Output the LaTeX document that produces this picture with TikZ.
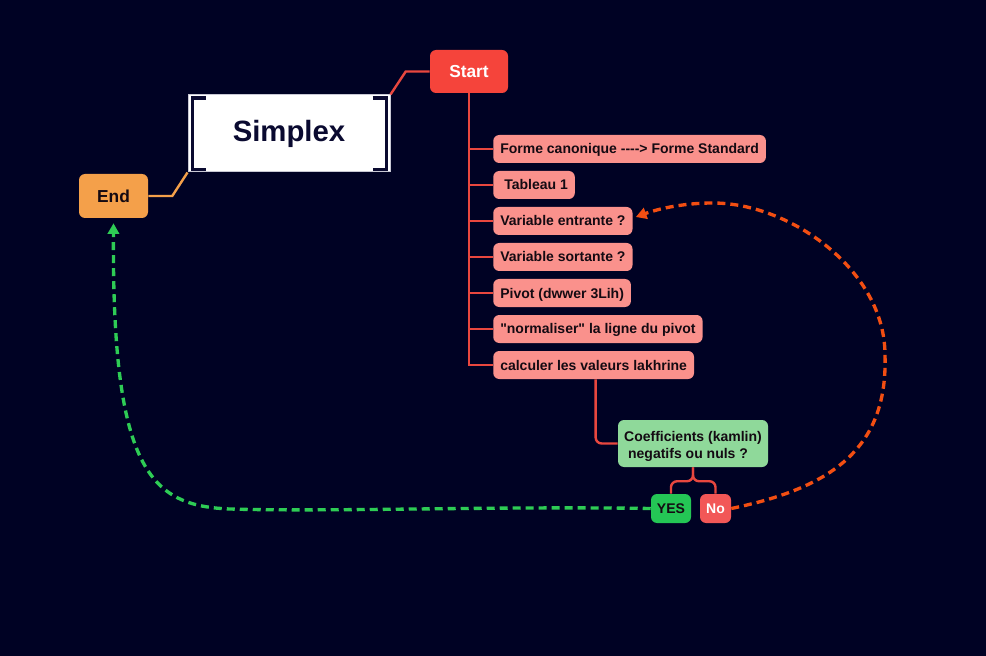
\documentclass[tikz,border=0pt]{standalone}
\usepackage{fontspec}
\setmainfont{Liberation Sans}[Ligatures=TeXOff]
\usetikzlibrary{calc,arrows.meta}
\definecolor{bgnavy}{HTML}{000224}
\definecolor{startred}{HTML}{F5443B}
\definecolor{endorange}{HTML}{F4A04A}
\definecolor{itempink}{HTML}{FA918C}
\definecolor{coefgreen}{HTML}{8FD99A}
\definecolor{yesgreen}{HTML}{24C655}
\definecolor{nored}{HTML}{F25757}
\definecolor{linkred}{HTML}{E8473F}
\definecolor{loopred}{HTML}{F24E12}
\definecolor{loopgreen}{HTML}{2ECC55}
\definecolor{inktext}{HTML}{140A12}
\definecolor{simplexink}{HTML}{0A0A30}
\tikzset{
	box/.style={rounded corners=4.5pt, inner sep=0pt, text=inktext,
		font=\bfseries\fontsize{10.5}{13}\selectfont, text height=9.5pt, text depth=2pt},
	item/.style={box, fill=itempink, anchor=west, minimum height=21pt, inner xsep=5.25pt},
	link/.style={draw=linkred, line width=1.8pt},
	bracket/.style={draw=simplexink, line width=2.6pt},
	loopback/.style={line width=2.5pt, dash pattern=on 6pt off 3.75pt, -{Triangle[length=8pt,width=8.5pt]}}
}

\begin{document}
\begin{tikzpicture}[x=0.75pt, y=-0.75pt]
			%%%%% START %%%%%
			
			\fill[bgnavy] (0, 0) rectangle (986, 656);
			
			\node[box, fill=startred, text=white, minimum width=58.5pt, minimum height=32.25pt,
				font=\bfseries\fontsize{13}{15}\selectfont, text height=11.5pt, text depth=2pt] (start) at (469, 71.5) {Start};
			\node[fill=white, draw={rgb,255:red,200;green,200;blue,212}, line width=0.75pt,
				minimum width=151.5pt, minimum height=57.75pt, text=simplexink,
				font=\bfseries\fontsize{22}{26}\selectfont] (simplex) at (289, 133.5) {Simplex};
			\node[box, fill=endorange, minimum width=51.75pt, minimum height=33pt,
				font=\bfseries\fontsize{13}{15}\selectfont, text height=11.5pt, text depth=2pt] (end) at (113.5, 196) {End};
			
			\draw[bracket] ($(simplex.north west)+(18,3.5)$) -- ($(simplex.north west)+(5,3.5)$)
				-- ($(simplex.south west)+(5,-3)$) -- ($(simplex.south west)+(18,-3)$);
			\draw[bracket] ($(simplex.north east)+(-18,3.5)$) -- ($(simplex.north east)+(-4,3.5)$)
				-- ($(simplex.south east)+(-4,-3)$) -- ($(simplex.south east)+(-18,-3)$);
			
			\node[item] (canon) at (493, 149) {Forme canonique ----> Forme Standard};
			\node[item] (tab) at (493, 185) {\hspace{3pt}Tableau 1};
			\node[item] (ventr) at (493, 221) {Variable entrante ?};
			\node[item] (vsort) at (493, 257) {Variable sortante ?};
			\node[item] (pivot) at (493, 293) {Pivot (dwwer 3Lih)};
			\node[item] (norm) at (493, 329) {"normaliser" la ligne du pivot};
			\node[item] (calc) at (493, 365) {calculer les valeurs lakhrine};
			
			\node[box, fill=coefgreen, align=left, text height={}, text depth={}, minimum width=112.5pt,
				minimum height=35.25pt] (coef) at (693, 443.5)
				{\rule{0pt}{12.2pt}Coefficients (kamlin)\\\hspace{3pt}negatifs ou nuls ?};
			\node[box, fill=yesgreen, minimum width=30pt, minimum height=21.75pt] (yes) at (671, 508.5) {YES};
			\node[box, fill=nored, text=white, minimum width=23.25pt, minimum height=21.75pt] (no) at (715.5, 508.5) {No};
			
			\draw[link] (start.west) -- ++(-24, 0) -- (simplex.north east);
			\draw[draw=endorange, line width=1.8pt] (simplex.south west) -- ($(end.east)+(24, 0)$) -- (end.east);
			
			\draw[link] (start.south) |- (calc.west);
			\draw[link] (start.south |- canon.west) -- (canon.west);
			\draw[link] (start.south |- tab.west) -- (tab.west);
			\draw[link] (start.south |- ventr.west) -- (ventr.west);
			\draw[link] (start.south |- vsort.west) -- (vsort.west);
			\draw[link] (start.south |- pivot.west) -- (pivot.west);
			\draw[link] (start.south |- norm.west) -- (norm.west);
			
			\draw[link, rounded corners=4.5pt] ($(calc.south)+(2, 0)$) |- (coef.west);
			\draw[link, rounded corners=4.5pt] (coef.south) -- ++(0, 14) -| (yes.north);
			\draw[link, rounded corners=4.5pt] (coef.south) -- ++(0, 14) -| (no.north);
			
			\coordinate (endtip) at ($(end.south)+(0, 5)$);
			\coordinate (ventrtip) at ($(ventr.east)+(3, -4)$);
			
			\draw[loopback, draw=loopgreen] (yes.west) .. controls (500, 506) and (330, 512) .. (230, 509)
				.. controls (150, 506) and (112, 470) .. (endtip);
			\draw[loopback, draw=loopred] (no.east) .. controls (830, 488) and (888, 450) .. (885, 355)
				.. controls (885, 270) and (790, 203) .. (713, 203)
				.. controls (680, 203) and (655, 210) .. (ventrtip);
			
			%%%%% END %%%%%
		\end{tikzpicture}
\end{document}
